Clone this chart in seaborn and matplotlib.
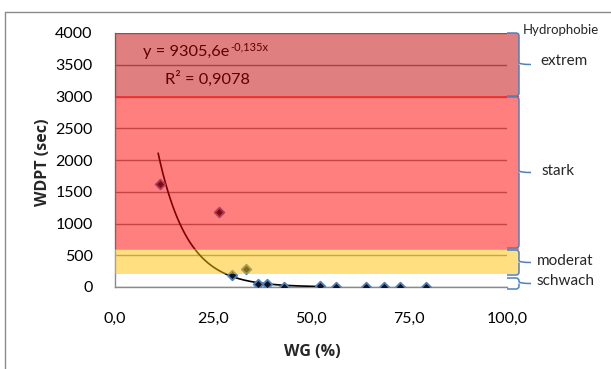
import numpy as np
import pandas as pd
import matplotlib
matplotlib.use("Agg")
import matplotlib.pyplot as plt
from matplotlib.lines import Line2D
from matplotlib.patches import Rectangle, PathPatch
from matplotlib.path import Path
import seaborn as sns

# ---- data ----
wg = [11.5, 26.5, 29.8, 33.3, 36.6, 38.7, 43.2, 52.4, 56.3, 64.1, 68.7, 72.8, 79.3]
wdpt = [1617, 1181, 184, 279, 45, 40, 5, 10, 5, 5, 5, 5, 5]
trend_a = 9305.6
trend_b = -0.135
trend_xrange = [11.0, 52.4]
x_ticks = [0, 25, 50, 75, 100]
x_ticklabels = ["0,0", "25,0", "50,0", "75,0", "100,0"]
y_ticks = [0, 500, 1000, 1500, 2000, 2500, 3000, 3500, 4000]
band_names = ["extrem", "stark", "moderat", "schwach"]
band_low = [3000, 600, 200, 0]
band_high = [4000, 3000, 600, 200]
eq_main = "y = 9305,6e"
eq_exp = "-0,135x"
r2_text = "R² = 0,9078"

W, H = 611, 369
sns.set_theme(style="white")
plt.rcParams['font.family'] = ['Lato', 'DejaVu Sans']

fig = plt.figure(figsize=(W / 100, H / 100), dpi=100)
ax = fig.add_axes([115 / W, 1 - 287 / H, (507 - 115) / W, (287 - 33) / H])

df = pd.DataFrame({"WG": wg, "WDPT": wdpt})
tx = np.linspace(trend_xrange[0], trend_xrange[1], 200)
tdf = pd.DataFrame({"x": tx, "y": trend_a * np.exp(trend_b * tx)})

sns.lineplot(data=tdf, x="x", y="y", ax=ax, color="black", lw=1.2, zorder=3)
sns.scatterplot(data=df, x="WG", y="WDPT", ax=ax, marker="D", s=24,
                color="#111122", edgecolor="#4F81BD", linewidth=1.3, zorder=4)

ax.set_xlim(0, 100)
ax.set_ylim(0, 4000)
ax.set_xticks(x_ticks)
ax.set_xticklabels(x_ticklabels)
ax.set_yticks(y_ticks)
ax.tick_params(axis="both", labelsize=11.5, colors="black", length=0)
ax.tick_params(axis="x", pad=18)
ax.tick_params(axis="y", pad=16)
ax.yaxis.grid(True, color="#8a8a8a", lw=1)
ax.set_axisbelow(True)
for s in ["top", "right"]:
    ax.spines[s].set_visible(False)
for s in ["left", "bottom"]:
    ax.spines[s].set_color("#8a8a8a")
    ax.spines[s].set_linewidth(1)

lab_font = dict(fontsize=11.5, fontweight="bold", family=["Open Sans", "DejaVu Sans"])
ax.set_xlabel("WG (%)", **lab_font)
ax.set_ylabel("WDPT (sec)", **lab_font)
ax.xaxis.set_label_coords((312 - 115) / (507 - 115), -(344 - 287) / (287 - 33), transform=ax.transAxes)
ax.yaxis.set_label_coords(-(115 - 51) / (507 - 115), (287 - 162) / (287 - 33), transform=ax.transAxes)

# equation text (under the translucent bands)
t = ax.text(143 / W, 1 - 52 / H, eq_main, fontsize=11.8, color="black", va="center",
            ha="left", zorder=3, transform=fig.transFigure)
ax.annotate(eq_exp, xy=(1, 0.5), xycoords=t, xytext=(0.5, 4), textcoords="offset points",
            fontsize=8, color="black", va="center", ha="left", zorder=3)
ax.text(165 / W, 1 - 79 / H, r2_text, fontsize=11.8, color="black", va="center",
        ha="left", zorder=3, transform=fig.transFigure)

# translucent bands on top of everything
band_cols = ["#C00000", "#FF0000", "#FFC000", None]
overlap = [0, 20, 0, 0]
for lo, hi, c, ov in zip(band_low, band_high, band_cols, overlap):
    if c is None:
        continue
    r = Rectangle((0, lo - ov), 103, hi - lo + ov * 1.5, facecolor=c, alpha=0.5,
                  edgecolor="none", clip_on=False, zorder=10, transform=ax.transData)
    ax.add_patch(r)

# braces (figure pixel coordinates)
def brace(y0, y1, tip_x=531):
    xl, xr = 507, 519
    ym = (y0 + y1) / 2
    r = 3
    verts = [(xl, y0), (xr - r, y0), (xr, y0), (xr, y0 + r),
             (xr, ym - 2), (xr, ym), (tip_x, ym),
             (xr, ym), (xr, ym + 2),
             (xr, y1 - r), (xr, y1), (xr - r, y1), (xl, y1)]
    codes = [Path.MOVETO, Path.LINETO, Path.CURVE3, Path.CURVE3,
             Path.LINETO, Path.CURVE3, Path.CURVE3,
             Path.MOVETO, Path.LINETO,
             Path.LINETO, Path.CURVE3, Path.CURVE3, Path.LINETO]
    verts = [(x / W, 1 - y / H) for x, y in verts]
    p = PathPatch(Path(verts, codes), facecolor="none", edgecolor="#4F81BD",
                  lw=1.1, transform=fig.transFigure, zorder=12)
    fig.patches.append(p)

brace(33, 96)
brace(97, 248)
brace(250, 275)
brace(278, 289)

fig.text(523 / W, 1 - 30 / H, "Hydrophobie", fontsize=9.5, va="center", ha="left")
label_pos = [(540, 61), (541, 171), (537, 261), (536, 281)]
for name, (px, py) in zip(band_names, label_pos):
    fig.text(px / W, 1 - py / H, name, fontsize=11, va="center", ha="left")

# outer chart frame
fig.add_artist(Line2D([5 / W, 5 / W], [0, 1 - 12 / H], color="#8a8a8a", lw=1, transform=fig.transFigure))
fig.add_artist(Line2D([5 / W, 1], [1 - 12 / H, 1 - 12 / H], color="#8a8a8a", lw=1, transform=fig.transFigure))

fig.savefig("out.png", dpi=100)
